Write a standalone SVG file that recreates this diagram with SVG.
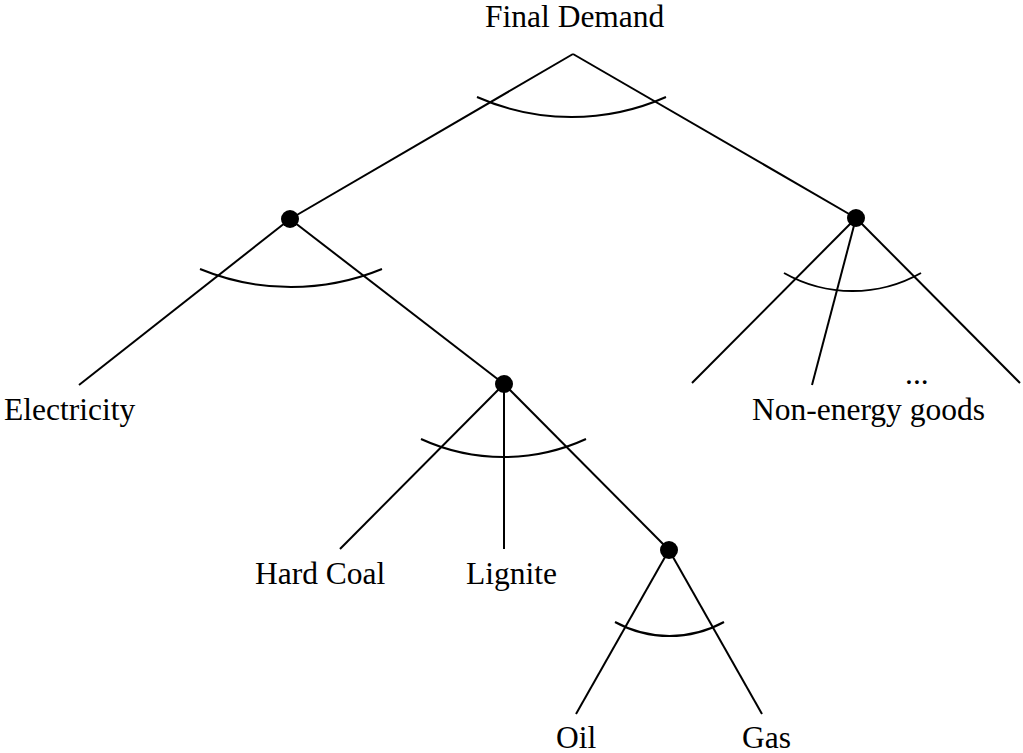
<svg xmlns="http://www.w3.org/2000/svg" width="1023" height="753" viewBox="0 0 1023 753">
<style>
.edge{stroke:#000;stroke-width:2;fill:none;stroke-linecap:butt}
.arc{stroke:#000;stroke-width:2;fill:none}
.dot{fill:#000}
.lbl{font-family:"Liberation Serif","Times New Roman",serif;font-size:31.5px;fill:#000}
</style>
<rect width="1023" height="753" fill="#fff"/>
<g id="connectors">
<line class="edge" x1="573" y1="54" x2="290" y2="219"/>
<line class="edge" x1="573" y1="54" x2="856" y2="218"/>
<line class="edge" x1="290" y1="219" x2="79" y2="385"/>
<line class="edge" x1="290" y1="219" x2="504" y2="384"/>
<line class="edge" x1="856" y1="218" x2="692" y2="383"/>
<line class="edge" x1="856" y1="218" x2="812" y2="385"/>
<line class="edge" x1="856" y1="218" x2="1020" y2="383"/>
<line class="edge" x1="504" y1="384" x2="340" y2="549"/>
<line class="edge" x1="504" y1="384" x2="504" y2="549"/>
<line class="edge" x1="504" y1="384" x2="669" y2="550"/>
<line class="edge" x1="669" y1="550" x2="576" y2="714"/>
<line class="edge" x1="669" y1="550" x2="762" y2="714"/>
</g>
<g id="final-demand">
<text class="lbl" x="485" y="27">Final Demand</text>
<path class="arc" d="M477,97 A233,233 0 0 0 666,97"/>
</g>
<g id="energy-node">
<circle class="dot" cx="290" cy="219" r="9"/>
<path class="arc" d="M200,269 A239,239 0 0 0 382,269"/>
</g>
<g id="nonenergy-node">
<circle class="dot" cx="856" cy="218" r="9"/>
<path class="arc" d="M784,273 A139,139 0 0 0 921,273"/>
</g>
<g id="fossil-node">
<circle class="dot" cx="504" cy="384" r="9"/>
<path class="arc" d="M421,439 A198,198 0 0 0 586,439"/>
</g>
<g id="oilgas-node">
<circle class="dot" cx="669" cy="550" r="9"/>
<path class="arc" d="M615,622 A113,113 0 0 0 724,622"/>
</g>
<g id="electricity"><text class="lbl" x="4" y="420">Electricity</text></g>
<g id="non-energy-goods"><text class="lbl" x="752" y="420">Non-energy goods</text></g>
<g id="ellipsis"><text class="lbl" x="905" y="384">...</text></g>
<g id="hard-coal"><text class="lbl" x="255" y="584">Hard Coal</text></g>
<g id="lignite"><text class="lbl" x="466" y="584">Lignite</text></g>
<g id="oil"><text class="lbl" x="556" y="748">Oil</text></g>
<g id="gas"><text class="lbl" x="742" y="748">Gas</text></g>
</svg>
